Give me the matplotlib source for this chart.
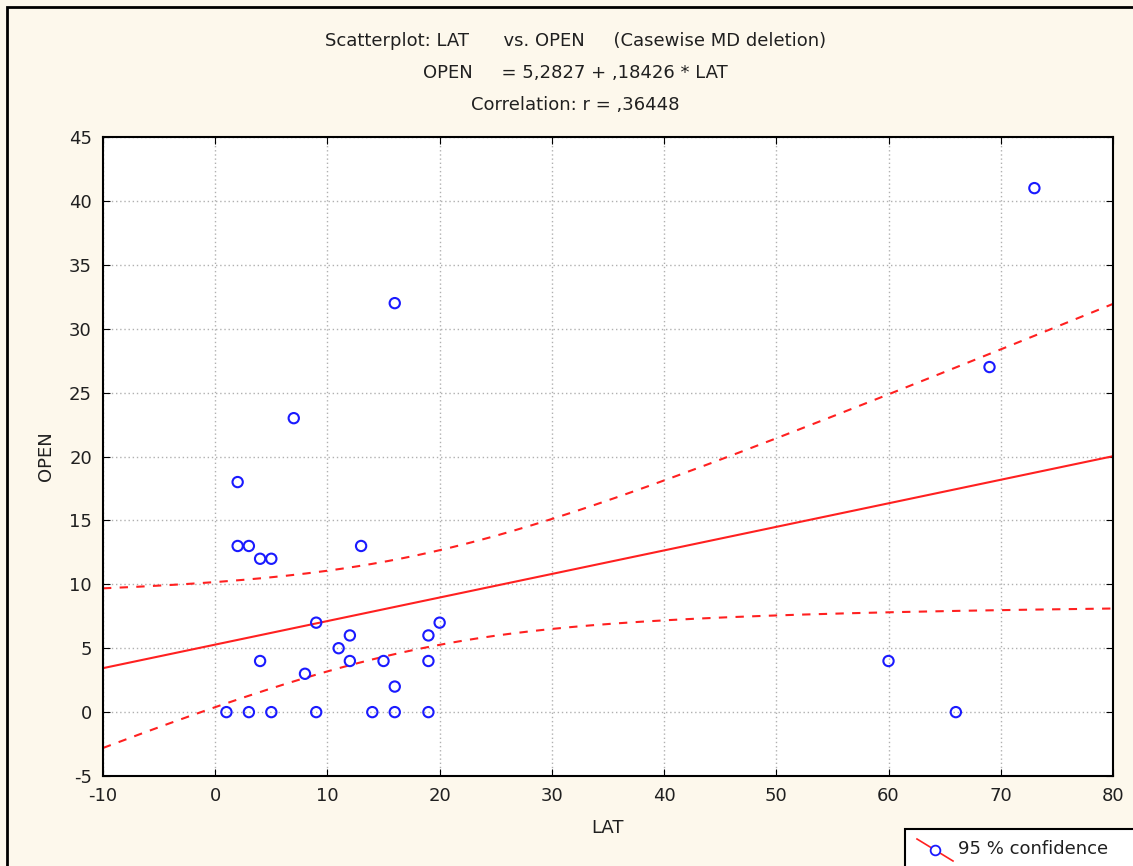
import matplotlib.pyplot as plt
import numpy as np
from matplotlib.lines import Line2D
from matplotlib.patches import Rectangle

lat = [1, 2, 2, 3, 3, 4, 5, 4, 5, 7, 8, 9, 9, 11, 12, 12, 13, 14, 15,
       16, 16, 16, 19, 19, 19, 20, 60, 66, 69, 73]
open_ = [0, 18, 13, 13, 0, 12, 12, 4, 0, 23, 3, 7, 0, 5, 6, 4, 13, 0, 4,
         32, 2, 0, 6, 4, 0, 7, 4, 0, 27, 41]
intercept = 5.2827
slope = 0.18426
x_ticks = list(range(-10, 81, 10))
y_ticks = list(range(-5, 46, 5))

plt.rcParams["axes.unicode_minus"] = False

x = np.array(lat, dtype=float)
y = np.array(open_, dtype=float)
n = len(x)

# 95% confidence band for the fitted mean
resid = y - (intercept + slope * x)
s = np.sqrt((resid ** 2).sum() / (n - 2))
t = 2.048
xs = np.linspace(-10, 80, 200)
fit = intercept + slope * xs
half = t * s * np.sqrt(1 / n + (xs - x.mean()) ** 2 / ((x - x.mean()) ** 2).sum())

fig = plt.figure(figsize=(11.33, 8.66), dpi=100, facecolor="#fdf8ec")
ax = fig.add_axes([0.0909, 0.1039, 0.8914, 0.7379])
ax.set_facecolor("white")

ax.plot(xs, fit, color="#ff2020", lw=1.5)
ax.plot(xs, fit + half, color="#ff2020", lw=1.5, ls=(0, (4, 4)))
ax.plot(xs, fit - half, color="#ff2020", lw=1.5, ls=(0, (4, 4)))
ax.scatter(lat, open_, s=55, facecolors="none", edgecolors="#1a1aff", lw=1.5, zorder=3)

ax.set_xlim(-10, 80)
ax.set_ylim(-5, 45)
ax.set_xticks(x_ticks)
ax.set_yticks(y_ticks)
ax.grid(True, color="#b0b0b0", ls=(0, (1, 2)), lw=1)
ax.tick_params(direction="in", length=5, top=True, right=True, labelsize=13,
               labelcolor="#202020", pad=8)
for sp in ax.spines.values():
    sp.set_linewidth(1.5)
ax.set_xlabel("LAT", fontsize=13, color="#202020", labelpad=10)
ax.set_ylabel("OPEN", fontsize=13, color="#202020", labelpad=10)

fig.text(0.508, 0.953, "Scatterplot: LAT      vs. OPEN     (Casewise MD deletion)",
         ha="center", va="center", fontsize=13, color="#202020")
fig.text(0.508, 0.916, "OPEN     = 5,2827 + ,18426 * LAT",
         ha="center", va="center", fontsize=13, color="#202020")
fig.text(0.508, 0.879, "Correlation: r = ,36448",
         ha="center", va="center", fontsize=13, color="#202020")

# outer frame
fig.add_artist(Rectangle((7 / 1133, -0.01), 1.1, 1 - 7 / 866 + 0.01,
                         transform=fig.transFigure, fill=False, ec="black", lw=2))

# legend box
fig.add_artist(Rectangle((905 / 1133, -0.01), 0.3, (866 - 829) / 866 + 0.01,
                         transform=fig.transFigure, fc="white", ec="black", lw=1.5))
fig.add_artist(Line2D([917 / 1133, 953 / 1133], [1 - 839 / 866, 1 - 861 / 866],
                      transform=fig.transFigure, color="#ff2020", lw=1.2))
fig.add_artist(Line2D([935 / 1133], [1 - 850 / 866], transform=fig.transFigure,
                      marker="o", mfc="white", mec="#1a1aff", ms=7, mew=1.3))
fig.text(958 / 1133, 1 - 849 / 866, "95 % confidence", ha="left", va="center",
         fontsize=13, color="#202020")

fig.savefig("out.png", dpi=100, facecolor=fig.get_facecolor())
